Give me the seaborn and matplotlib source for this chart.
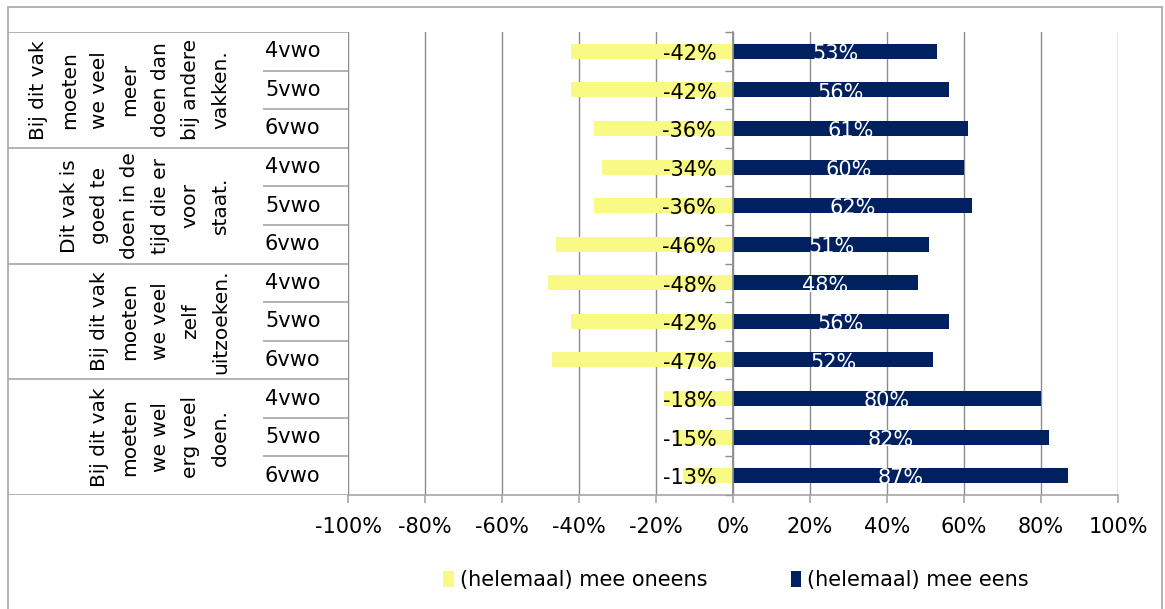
import matplotlib
matplotlib.use("Agg")
import matplotlib.pyplot as plt
from matplotlib.patches import Patch, Rectangle
import pandas as pd
import seaborn as sns

# statements (group labels, already wrapped the way the chart shows them)
statements = [
    "Bij dit vak\nmoeten\nwe veel\nmeer\ndoen dan\nbij andere\nvakken.",
    "Dit vak is\ngoed te\ndoen in de\ntijd die er\nvoor\nstaat.",
    "Bij dit vak\nmoeten\nwe veel\nzelf\nuitzoeken.",
    "Bij dit vak\nmoeten\nwe wel\nerg veel\ndoen.",
]
years = ["4vwo", "5vwo", "6vwo"]

# percentages per statement, per year
disagree = [
    [-42, -42, -36],
    [-34, -36, -46],
    [-48, -42, -47],
    [-18, -15, -13],
]
agree = [
    [53, 56, 61],
    [60, 62, 51],
    [48, 56, 52],
    [80, 82, 87],
]
series_names = ["(helemaal) mee oneens", "(helemaal) mee eens"]
colors = ["#F9F985", "#002060"]
grid_color = "#8C8C8C"
table_color = "#A6A6A6"

rows = []
for g in range(len(statements)):
    for y, yr in enumerate(years):
        key = f"{g}-{yr}"
        rows.append({"row": key, "series": series_names[0], "value": disagree[g][y]})
        rows.append({"row": key, "series": series_names[1], "value": agree[g][y]})
df = pd.DataFrame(rows)
order = list(dict.fromkeys(df["row"]))

sns.set_theme(style="white")
plt.rcParams["font.family"] = ["DejaVu Sans"]
plt.rcParams["text.color"] = "black"
plt.rcParams["xtick.color"] = "black"

W, H = 1165, 609
fig = plt.figure(figsize=(W / 100, H / 100), dpi=100)

# main plot area: -100% .. 100%
ax = fig.add_axes([348 / W, 1 - 495 / H, 770 / W, 463 / H])
sns.barplot(
    data=df, x="value", y="row", hue="series", order=order,
    hue_order=series_names, palette=colors, orient="h", dodge=False,
    width=0.39, legend=False, saturation=1, linewidth=0, edgecolor="none", ax=ax,
)
n = len(order)
ax.set_xlim(-100, 100)
ax.set_ylim(n - 0.5, -0.5)
ax.set_xticks(range(-100, 101, 20))
ax.set_xticklabels([f"{v}%" for v in range(-100, 101, 20)], fontsize=15)
ax.xaxis.grid(True, color=grid_color, linewidth=1)
ax.set_axisbelow(True)
ax.set_xlabel("")
ax.set_ylabel("")

# vertical axis at 0 with tick marks between the rows
for s in ["top", "right"]:
    ax.spines[s].set_visible(False)
ax.spines["left"].set_position(("data", 0))
ax.spines["left"].set_color(grid_color)
ax.spines["bottom"].set_visible(True)
ax.spines["bottom"].set_color(table_color)
ax.spines["bottom"].set_linewidth(1.2)
ax.set_yticks([])
ax.set_yticks([i - 0.5 for i in range(n + 1)], minor=True)
ax.tick_params(axis="y", which="minor", direction="out", length=6,
               color=grid_color, width=1, left=True)
ax.tick_params(axis="x", direction="out", length=6, color=table_color,
               width=1.2, bottom=True, pad=10, labelcolor="black")

# value labels
neg, pos = ax.containers
for bar, v in zip(neg, [v for grp in disagree for v in grp]):
    yc = bar.get_y() + bar.get_height() / 2
    ax.annotate(f"{v}%", xy=(0, yc), xytext=(-12, -2), textcoords="offset points",
                ha="right", va="center", fontsize=15, color="black")
for bar, v in zip(pos, [v for grp in agree for v in grp]):
    yc = bar.get_y() + bar.get_height() / 2
    ax.annotate(f"{v}%", xy=(bar.get_x() + bar.get_width() / 2, yc), xytext=(0, -2),
                textcoords="offset points", ha="center", va="center",
                fontsize=15, color="white")

# category table on the left (x in pixels from the chart border)
tab = fig.add_axes([8 / W, 1 - 495 / H, 340 / W, 463 / H], sharey=ax)
tab.set_xlim(0, 340)
tab.set_ylim(n - 0.5, -0.5)
tab.axis("off")
for g, text in enumerate(statements):
    top = g * len(years) - 0.5
    tab.hlines(top, 0, 340, color=table_color, linewidth=1.2)
    tab.text(222, top + len(years) / 2, text, rotation=90, ha="right", va="center",
             multialignment="center", fontsize=14.5, linespacing=1.75)
    for y, yr in enumerate(years):
        r = g * len(years) + y
        if y > 0:
            tab.hlines(r - 0.5, 255, 340, color=table_color, linewidth=1.2)
        tab.text(257, r, yr, ha="left", va="center", fontsize=15)
tab.hlines(n - 0.5, 0, 340, color=table_color, linewidth=1.2)

# legend
handles = [Patch(facecolor=c, edgecolor="none") for c in colors]
fig.legend(handles, series_names, loc="center", ncol=2, frameon=False,
           bbox_to_anchor=(736 / W, 1 - 580 / H), fontsize=15,
           handlelength=0.5, handleheight=0.8, handletextpad=0.3,
           columnspacing=4.0)

# outer chart border
fig.patches.append(Rectangle((8 / W, -0.05), 1154 / W, 1.05 - 7 / H,
                             transform=fig.transFigure, fill=False,
                             edgecolor=table_color, linewidth=1.2))

fig.savefig("out.png", dpi=100)
